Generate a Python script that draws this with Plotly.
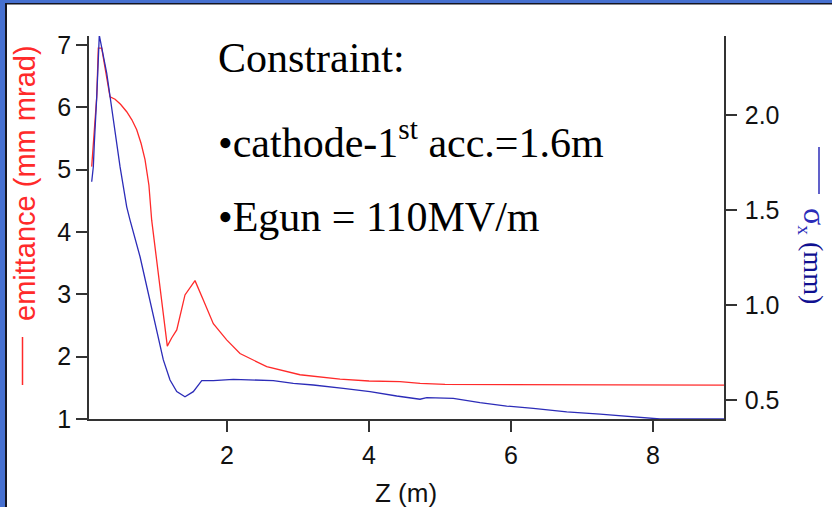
import plotly.graph_objects as go

# ---------------- data ----------------
z_emit = [0.094, 0.118, 0.141, 0.165, 0.187, 0.235, 0.29, 0.352, 0.423, 0.50, 0.587, 0.66,
          0.728, 0.79, 0.845, 0.90, 0.939, 1.05, 1.159, 1.22, 1.292, 1.408, 1.549, 1.666,
          1.807, 1.995, 2.183, 2.559, 3.028, 3.592, 4.0, 4.437, 4.72, 5.07, 5.845, 7.254,
          8.338, 8.35, 9.0]
emittance = [5.05, 5.42, 5.80, 6.17, 6.95, 6.95, 6.58, 6.17, 6.13, 6.05, 5.93, 5.80,
             5.64, 5.42, 5.16, 4.75, 4.19, 3.17, 2.17, 2.30, 2.43, 2.99, 3.22, 2.91,
             2.53, 2.27, 2.05, 1.84, 1.71, 1.64, 1.61, 1.60, 1.57, 1.555, 1.555, 1.555,
             1.555, 1.545, 1.545]

z_sig = [0.094, 0.117, 0.131, 0.151, 0.165, 0.179, 0.201, 0.306, 0.399, 0.493, 0.587, 0.634,
         0.775, 0.892, 1.010, 1.103, 1.197, 1.292, 1.408, 1.525, 1.644, 1.807, 2.089, 2.652,
         2.934, 3.215, 3.638, 4.014, 4.390, 4.718, 4.813, 5.187, 5.563, 5.939, 6.314, 6.785,
         7.254, 7.863, 8.099, 9.0]
sigma_x = [1.649, 1.728, 1.851, 1.974, 2.096, 2.22, 2.42, 2.22, 1.974, 1.728, 1.517, 1.447,
           1.254, 1.062, 0.868, 0.711, 0.605, 0.544, 0.517, 0.544, 0.602, 0.602, 0.609, 0.602,
           0.588, 0.579, 0.561, 0.544, 0.521, 0.504, 0.512, 0.509, 0.486, 0.468, 0.456, 0.438,
           0.426, 0.409, 0.40, 0.40]

x_ticks = [2, 4, 6, 8]
y_left_ticks = [1, 2, 3, 4, 5, 6, 7]
y_right_ticks = [0.5, 1.0, 1.5, 2.0]

# ---------------- layout helpers ----------------
W, H = 832, 507
L, R, T, B = 89, 108, 36, 88
PW, PH = W - L - R, H - T - B


def px(xp):
    return (xp - L) / PW


def py(yp):
    return (H - B - yp) / PH


RED = "#ff2a2a"
BLUE = "#2c2cb8"
AXC = "#333333"
TICKFONT = dict(family="Liberation Sans, Arial, sans-serif", size=25, color="#111111")

fig = go.Figure()
fig.add_trace(go.Scatter(x=z_emit, y=emittance, mode="lines",
                         line=dict(color=RED, width=1.3), yaxis="y", showlegend=False))
fig.add_trace(go.Scatter(x=z_sig, y=sigma_x, mode="lines",
                         line=dict(color=BLUE, width=1.3), yaxis="y2", showlegend=False))

AX = dict(ticks="outside", ticklen=11, tickwidth=1.5, tickcolor=AXC, showline=True,
          linecolor=AXC, linewidth=1.5, showgrid=False, zeroline=False, tickfont=TICKFONT,
          automargin=False)

fig.update_layout(
    width=W, height=H,
    margin=dict(l=L, r=R, t=T, b=B),
    paper_bgcolor="white", plot_bgcolor="white",
    xaxis=dict(range=[0.056, 9.0], tickvals=x_ticks, ticklabelstandoff=2, **AX),
    yaxis=dict(range=[1, 7.145], tickvals=y_left_ticks, **AX),
    yaxis2=dict(range=[0.4, 2.416], tickvals=y_right_ticks, tickformat=".1f",
                overlaying="y", side="right", ticklabelstandoff=3, **AX),
)

# axis titles as annotations
fig.add_annotation(xref="paper", yref="paper", x=px(406), y=py(493),
                   text="Z (m)", showarrow=False,
                   font=dict(family="Liberation Sans, Arial", size=26, color="#111111"),
                   xanchor="center", yanchor="middle")
fig.add_annotation(xref="paper", yref="paper", x=px(25), y=py(183),
                   text="emittance (mm mrad)", textangle=-90, showarrow=False,
                   font=dict(family="Liberation Sans, Arial", size=29, color=RED),
                   xanchor="center", yanchor="middle")
fig.add_annotation(xref="paper", yref="paper", x=px(814), y=py(256),
                   text="<span style='font-size:32px'>σ</span><sub>x</sub> "
                        "<span style='color:#101090'>(mm)</span>",
                   textangle=90, showarrow=False,
                   font=dict(family="Liberation Serif, Times New Roman", size=28, color=BLUE),
                   xanchor="center", yanchor="middle")

# legend-like line markers in the axis titles
fig.add_shape(type="line", xref="paper", yref="paper", x0=px(22.5), x1=px(22.5),
              y0=py(337), y1=py(385), line=dict(color=RED, width=1.5))
fig.add_shape(type="line", xref="paper", yref="paper", x0=px(819), x1=px(819),
              y0=py(147), y1=py(194), line=dict(color=BLUE, width=1.5))

# constraint text
SERIF = "Liberation Serif, Times New Roman, serif"
fig.add_annotation(xref="paper", yref="paper", x=px(216), y=py(58), text="Constraint:",
                   showarrow=False, xanchor="left", yanchor="middle",
                   font=dict(family=SERIF, size=42, color="black"))
fig.add_annotation(xref="paper", yref="paper", x=px(216), y=py(139),
                   text="•cathode-1<sup>st</sup> acc.=1.6m",
                   showarrow=False, xanchor="left", yanchor="middle",
                   font=dict(family=SERIF, size=42, color="black"))
fig.add_annotation(xref="paper", yref="paper", x=px(216), y=py(217),
                   text="•Egun = 110MV/m",
                   showarrow=False, xanchor="left", yanchor="middle",
                   font=dict(family=SERIF, size=42, color="black"))

# slide frame (blue band with dark edge on left and top)
FRAME = "#4670D0"
fig.add_shape(type="rect", xref="paper", yref="paper", x0=px(0), x1=px(5), y0=py(H), y1=py(0),
              fillcolor=FRAME, line=dict(width=0), layer="above")
fig.add_shape(type="rect", xref="paper", yref="paper", x0=px(0), x1=px(W), y0=py(3), y1=py(0),
              fillcolor=FRAME, line=dict(width=0), layer="above")
fig.add_shape(type="rect", xref="paper", yref="paper", x0=px(5), x1=px(7), y0=py(H), y1=py(3),
              fillcolor="#151520", line=dict(width=0), layer="above")
fig.add_shape(type="rect", xref="paper", yref="paper", x0=px(5), x1=px(W), y0=py(4.5), y1=py(3),
              fillcolor="#151520", line=dict(width=0), layer="above")

fig.write_html("out.html")
